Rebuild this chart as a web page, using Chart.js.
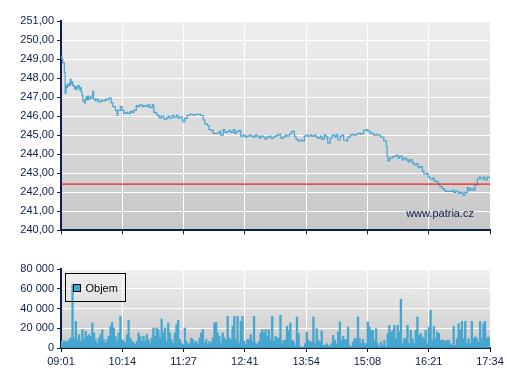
<!DOCTYPE html>
<html><head><meta charset="utf-8">
<script src="https://cdn.jsdelivr.net/npm/chart.js@4.4.0/dist/chart.umd.min.js"></script>
<style>
html,body{margin:0;padding:0;background:#fff;width:507px;height:380px;overflow:hidden}
#top{position:absolute;left:0;top:0;width:507px;height:240px}
#bot{position:absolute;left:0;top:250px;width:507px;height:130px}
</style></head><body>
<div id="top"><canvas id="c1"></canvas></div>
<div id="bot"><canvas id="c2"></canvas></div>
<script>
// ---- data ----
const timeLabels = ['09:01','10:14','11:27','12:41','13:54','15:08','16:21','17:34'];
const sessionMinutes = 513; // 09:01 -> 17:34
const referencePrice = 242.43;

const priceMinutes = [0,1,2,4,5,6,7,8,10,11,12,13,14,16,17,18,19,20,22,23,24,25,26,28,29,30,31,32,33,35,36,37,38,39,41,
43,45,48,50,53,55,57,60,62,65,67,68,
71,73,75,78,80,83,85,87,90,92,94,97,99,102,104,106,109,111,114,116,118,120,123,126,128,130,133,135,138,140,142,145,
146,148,151,154,158,161,165,167,
170,172,175,177,179,182,184,187,189,191,194,196,199,201,203,206,208,210,213,215,218,220,222,225,227,230,232,234,237,239,242,244,246,249,251,254,256,258,261,263,266,268,270,273,275,
276,
279,281,283,286,288,291,293,295,298,300,303,305,307,310,312,315,317,319,322,324,327,329,331,334,336,338,341,343,346,348,350,353,355,358,360,362,365,367,370,372,374,377,379,382,384,386,389,
390,391,
393,396,398,401,403,405,408,410,413,415,417,420,422,425,427,429,432,434,437,439,441,444,446,449,451,453,456,458,460,463,465,468,470,472,475,477,480,
481,
483,486,488,490,493,495,498,500,502,505,507,510,
513];

const priceValues = [249.15,249.0,248.8,248.3,247.2,247.6,247.5,247.7,247.6,247.95,247.7,247.8,247.6,247.45,247.55,247.4,247.5,247.6,247.4,247.5,247.3,247.1,246.8,246.7,246.9,247.0,246.85,247.05,246.9,247.0,246.95,247.1,247.3,246.9,246.8,
246.9,246.75,246.85,246.8,246.9,246.85,246.95,246.7,246.5,246.3,246.05,246.3,
246.5,246.3,246.15,246.2,246.15,246.25,246.2,246.3,246.55,246.5,246.6,246.5,246.55,246.5,246.6,246.45,246.6,246.2,246.1,246.0,245.9,246.0,245.85,245.9,246.0,245.9,246.05,245.95,246.05,245.9,245.95,245.8,
245.7,245.9,246.05,246.1,246.05,246.1,246.1,246.05,
245.8,245.6,245.5,245.3,245.25,245.1,245.1,245.1,245.2,245.0,245.3,245.15,245.2,245.25,245.15,245.3,245.1,245.2,245.25,244.95,245.0,244.9,244.95,245.0,244.95,244.9,245.0,244.95,244.85,244.95,244.9,244.8,244.9,244.95,244.85,244.9,244.95,245.0,245.05,244.85,244.9,245.0,244.95,245.05,245.1,
245.2,
244.95,244.8,244.7,244.75,244.7,244.95,245.0,244.95,245.0,244.95,245.0,244.9,244.85,244.95,244.8,245.0,244.9,244.6,244.85,245.0,244.9,245.05,244.75,244.95,245.0,244.75,244.7,244.9,245.0,245.05,245.0,245.05,245.1,245.05,245.1,245.25,245.3,245.2,245.1,245.1,245.0,245.05,245.0,244.9,244.9,244.7,244.4,
243.9,243.65,
243.8,243.85,243.9,243.95,243.8,243.9,243.7,243.8,243.7,243.6,243.7,243.55,243.45,243.5,243.3,243.35,243.1,242.95,243.0,242.8,242.7,242.75,242.6,242.55,242.45,242.3,242.2,242.1,242.05,242.05,242.05,242.1,242.0,242.05,241.95,242.0,241.95,
241.85,
242.0,242.25,242.1,242.2,242.1,242.4,242.7,242.8,242.7,242.8,242.65,242.8,
242.75];

const volumeValues = [6800,5700,7400,6100,6800,8500,10100,64000,10100,27000,8500,13500,6800,18600,8500,16900,11800,13500,11800,25400,
15200,8500,5100,10100,13500,18600,8500,5100,8500,11800,22000,26000,20300,11800,6800,15200,32100,8500,6800,5100,
13500,28000,10100,6800,5100,3400,6800,15200,11800,6800,11800,6800,13500,8500,5100,10100,20300,11800,20300,18600,
10100,29400,15200,20300,6800,25400,15200,8500,5100,15200,23700,28000,8500,5100,3400,20300,6800,3400,5100,10100,
8500,5100,6800,3400,10100,15200,18600,5100,8500,3400,6800,5100,10100,25400,26000,15200,11800,5100,15200,10100,
7800,32100,10100,8500,22000,32100,8500,32100,5100,27000,32100,6800,3400,8500,8500,13500,6800,32100,5100,3400,
6800,15200,18600,15200,18600,11800,18600,8500,32100,6800,11800,10100,10100,
33100,4400,7800,7800,22000,17900,25400,7800,6800,2700,31400,14500,1000,1000,1000,4400,16200,7800,6100,6100,
31400,4400,19600,7800,6100,17200,2700,2700,4400,2700,1000,4400,12800,7800,4400,16200,26400,7800,11800,8500,
8500,21300,2700,1000,6100,9500,9500,31400,9500,4400,8500,4400,4400,26400,21300,17900,17900,7800,19600,4400,
1000,6100,2700,7800,1000,14500,23000,16200,17900,23000,9500,23000,16200,49300,4400,9500,9500,23000,4400,17900,
9500,4400,17900,31400,12800,14500,11200,9500,17900,4400,21300,38200,7800,22000,9500,16200,14500,7800,7800,7800,
6100,7800,7800,4400,2700,22000,2700,9500,24700,17900,27000,9500,27000,4400,9500,4400,27000,9500,11200,9500,
6100,27000,9500,24700,27000,9500,11200,9500];

// ---- styles ----
const NAVY = '#0b1f4b';
const LINE_BLUE = '#47a3d1';
const BAR_BLUE = '#45a6d0';
const FONT = {family:'"Liberation Sans", Arial, sans-serif', size:11};

const bgPlugin = {
  id:'bg',
  beforeDraw(chart, args, opts){
    const {ctx, chartArea:a} = chart;
    const g = ctx.createLinearGradient(0,a.top,0,a.bottom);
    g.addColorStop(0, opts.top); g.addColorStop(1, opts.bottom);
    ctx.save(); ctx.fillStyle = g;
    ctx.fillRect(a.left, a.top, a.right-a.left, a.bottom-a.top);
    ctx.restore();
  }
};

const watermark = {
  id:'watermark',
  afterDatasetsDraw(chart){
    const {ctx, chartArea:a} = chart;
    ctx.save();
    ctx.font = '11px "Liberation Sans", Arial, sans-serif';
    ctx.fillStyle = NAVY; ctx.textAlign = 'right'; ctx.textBaseline = 'alphabetic';
    ctx.fillText('www.patria.cz', a.right - 16, a.bottom - 13);
    ctx.restore();
  }
};

const boxLegend = {
  id:'boxLegend',
  afterDraw(chart){
    const {ctx, chartArea:a} = chart;
    const x = a.left + 4.5, y = a.top + 4.5, w = 60, h = 28;
    ctx.save();
    ctx.strokeStyle = '#000'; ctx.lineWidth = 1;
    ctx.strokeRect(x, y, w, h);
    ctx.fillStyle = BAR_BLUE;
    ctx.fillRect(x + 8, y + 11, 7, 7);
    ctx.strokeRect(x + 8, y + 11, 7, 7);
    ctx.font = '11px "Liberation Sans", Arial, sans-serif';
    ctx.fillStyle = '#000'; ctx.textBaseline = 'middle'; ctx.textAlign = 'left';
    ctx.fillText(chart.data.datasets[0].label, x + 20, y + 15);
    ctx.restore();
  }
};

Chart.defaults.animation = false;
Chart.defaults.font = FONT;

const xAxisCommon = (showLabels, height) => ({
  type:'linear', min:0, max:sessionMinutes, offset:false,
  afterBuildTicks(scale){ scale.ticks = timeLabels.map((t,i)=>({value: i*sessionMinutes/7})); },
  ticks:{display:showLabels, color:NAVY, padding:3, maxRotation:0, autoSkip:false,
    callback:(v,i)=>timeLabels[i]},
  grid:{color:'#ffffff', lineWidth:1, tickColor:NAVY, tickLength:4, drawTicks:true, offset:false},
  border:{color:NAVY, width:2},
  afterFit(scale){ scale.height = height; }
});

const priceData = priceMinutes.slice(0, priceValues.length).map((m,i)=>({x:m, y:priceValues[i]}));

new Chart(document.getElementById('c1'), {
  type:'line',
  data:{datasets:[
    {label:'Reference', data:[{x:0,y:referencePrice},{x:sessionMinutes,y:referencePrice}],
      borderColor:'#e8201c', borderWidth:1.3, pointRadius:0, order:1},
    {label:'Cena', data:priceData, borderColor:LINE_BLUE, borderWidth:1.2,
      pointRadius:0, stepped:true, order:2}
  ]},
  options:{
    responsive:true, maintainAspectRatio:false,
    layout:{padding:{left:0, right:17, top:21, bottom:0}},
    plugins:{legend:{display:false}, tooltip:{enabled:false}, bg:{top:'#efefef', bottom:'#c7c7c7'}},
    scales:{
      x: xAxisCommon(false, 9),
      y:{min:240, max:251,
        ticks:{stepSize:1, color:NAVY, padding:3, autoSkip:false,
          callback:v=>v.toFixed(2).replace('.',',')},
        grid:{color:'#ffffff', lineWidth:1, tickColor:NAVY, tickLength:4},
        border:{color:NAVY, width:2},
        afterFit(scale){ scale.width = 61; }}
    }
  },
  plugins:[bgPlugin, watermark]
});

const volData = volumeValues.map((v,i)=>({x: i*sessionMinutes/(volumeValues.length-1), y:v}));

new Chart(document.getElementById('c2'), {
  type:'bar',
  data:{datasets:[{label:'Objem', data:volData, backgroundColor:BAR_BLUE, borderWidth:0,
    barPercentage:1, categoryPercentage:1}]},
  options:{
    responsive:true, maintainAspectRatio:false,
    layout:{padding:{left:0, right:17, top:19, bottom:0}},
    plugins:{legend:{display:false}, tooltip:{enabled:false}, bg:{top:'#f1f1f1', bottom:'#cacaca'}},
    scales:{
      x: xAxisCommon(true, 32),
      y:{min:0, max:80000,
        ticks:{stepSize:20000, color:NAVY, padding:3, autoSkip:false,
          callback:v=>String(v).replace(/\B(?=(\d{3})+(?!\d))/g,' ')},
        grid:{color:'#ffffff', lineWidth:1, tickColor:NAVY, tickLength:4},
        border:{color:NAVY, width:2},
        afterFit(scale){ scale.width = 61; }}
    }
  },
  plugins:[bgPlugin, boxLegend]
});
</script>
</body></html>
